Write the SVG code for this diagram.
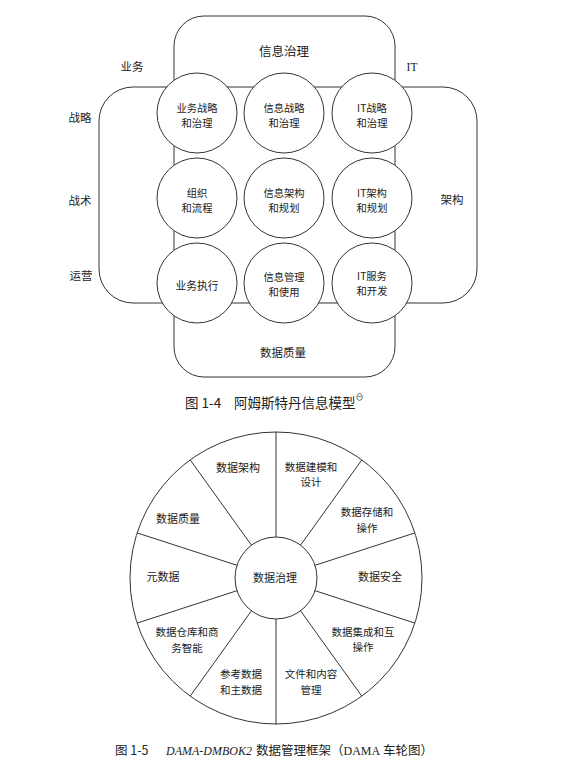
<svg xmlns="http://www.w3.org/2000/svg" width="576" height="773" viewBox="0 0 576 773">
<style>
.ln{fill:none;stroke:#333;stroke-width:1}
.c{fill:#fff;stroke:#333;stroke-width:1}
text{font-family:"Noto Sans CJK SC","Liberation Serif",sans-serif;fill:#222;text-anchor:middle;font-size:10.3px}
.lb{font-size:11.5px}
.wl{font-size:10.5px}
.ws{font-size:11px}
.cap{font-size:13.5px;text-anchor:start}
.cap2{font-size:12.5px;text-anchor:start}
.lat{font-family:"Liberation Serif","Noto Sans CJK SC",serif}
</style>
<rect width="576" height="773" fill="#fff"/>
<g id="amsterdam-frames">
<rect id="vbox" class="ln" x="174" y="16" width="221" height="361" rx="30" ry="30"/>
<rect id="hbox" class="ln" x="99" y="87" width="378" height="216" rx="34" ry="34"/>
</g>
<g id="n-info-gov"><text x="284" y="56" style="font-size:12.5px">信息治理</text></g>
<g id="n-biz"><text class="lb" x="132" y="71">业务</text></g>
<g id="n-it"><text class="lb lat" x="412" y="71">IT</text></g>
<g id="n-strategy"><text class="lb" x="80" y="122">战略</text></g>
<g id="n-tactic"><text class="lb" x="80" y="205">战术</text></g>
<g id="n-ops"><text class="lb" x="81" y="280">运营</text></g>
<g id="n-arch"><text class="lb" x="452" y="204">架构</text></g>
<g id="n-dq"><text class="lb" x="283" y="357">数据质量</text></g>

<g id="c11"><circle class="c" cx="197" cy="113" r="40"/><text x="197" y="112.3">业务战略<tspan x="197" dy="15">和治理</tspan></text></g>
<g id="c12"><circle class="c" cx="284" cy="113" r="40"/><text x="284" y="112.3">信息战略<tspan x="284" dy="15">和治理</tspan></text></g>
<g id="c13"><circle class="c" cx="372" cy="113" r="40"/><text x="372" y="112.3">IT战略<tspan x="372" dy="15">和治理</tspan></text></g>
<g id="c21"><circle class="c" cx="197" cy="198" r="40"/><text x="197" y="197.3">组织<tspan x="197" dy="15">和流程</tspan></text></g>
<g id="c22"><circle class="c" cx="284" cy="198" r="40"/><text x="284" y="197.3">信息架构<tspan x="284" dy="15">和规划</tspan></text></g>
<g id="c23"><circle class="c" cx="372" cy="198" r="40"/><text x="372" y="197.3">IT架构<tspan x="372" dy="15">和规划</tspan></text></g>
<g id="c31"><circle class="c" cx="197" cy="283" r="40"/><text x="197" y="290" style="font-size:10.8px">业务执行</text></g>
<g id="c32"><circle class="c" cx="284" cy="283" r="40"/><text x="284" y="281.3">信息管理<tspan x="284" dy="15">和使用</tspan></text></g>
<g id="c33"><circle class="c" cx="372" cy="283" r="40"/><text x="372" y="279.8">IT服务<tspan x="372" dy="15">和开发</tspan></text></g>

<g id="caption1"><text class="cap" x="185" y="408">图 1-4<tspan x="234">阿姆斯特丹信息模型</tspan><tspan dy="-8" style="font-size:8px">⊖</tspan></text></g>

<g id="wheel">
<circle class="ln" cx="276" cy="578" r="146"/>
<g id="spokes" class="ln">
<line x1="276" y1="537" x2="276" y2="432"/>
<line x1="300.1" y1="545.8" x2="361.8" y2="459.9"/>
<line x1="315" y1="565.3" x2="414.9" y2="532.9"/>
<line x1="315" y1="590.7" x2="414.9" y2="623.1"/>
<line x1="300.1" y1="610.2" x2="361.8" y2="696.1"/>
<line x1="276" y1="619" x2="276" y2="724"/>
<line x1="251.9" y1="610.2" x2="190.2" y2="696.1"/>
<line x1="237" y1="590.7" x2="137.1" y2="623.1"/>
<line x1="237" y1="565.3" x2="137.1" y2="532.9"/>
<line x1="251.9" y1="545.8" x2="190.2" y2="459.9"/>
</g>
<circle class="c" cx="276" cy="578" r="41"/>
</g>
<g id="w-gov"><text class="ws" x="275" y="582">数据治理</text></g>
<g id="w-arch"><text class="ws" x="238" y="472">数据架构</text></g>
<g id="w-model"><text class="wl" x="311" y="470.8">数据建模和<tspan x="311" dy="15.3">设计</tspan></text></g>
<g id="w-store"><text class="wl" x="367" y="516.3">数据存储和<tspan x="367" dy="15.3">操作</tspan></text></g>
<g id="w-sec"><text class="ws" x="380" y="581">数据安全</text></g>
<g id="w-integ"><text class="wl" x="363" y="635.8">数据集成和互<tspan x="363" dy="15.3">操作</tspan></text></g>
<g id="w-doc"><text class="wl" x="311" y="678.2">文件和内容<tspan x="311" dy="15.3">管理</tspan></text></g>
<g id="w-ref"><text class="wl" x="241" y="678.2">参考数据<tspan x="241" dy="15.3">和主数据</tspan></text></g>
<g id="w-dw"><text class="wl" x="187" y="636.3">数据仓库和商<tspan x="187" dy="15.3">务智能</tspan></text></g>
<g id="w-meta"><text class="ws" x="163" y="581">元数据</text></g>
<g id="w-dq"><text class="ws" x="178" y="523">数据质量</text></g>

<g id="caption2"><text class="cap2" x="115" y="755">图 1-5<tspan x="166" class="lat" style="font-style:italic;font-size:12px">DAMA-DMBOK2</tspan><tspan x="256">数据管理框架（</tspan><tspan class="lat" style="font-size:12px">DAMA</tspan> 车轮图）</text></g>
</svg>
